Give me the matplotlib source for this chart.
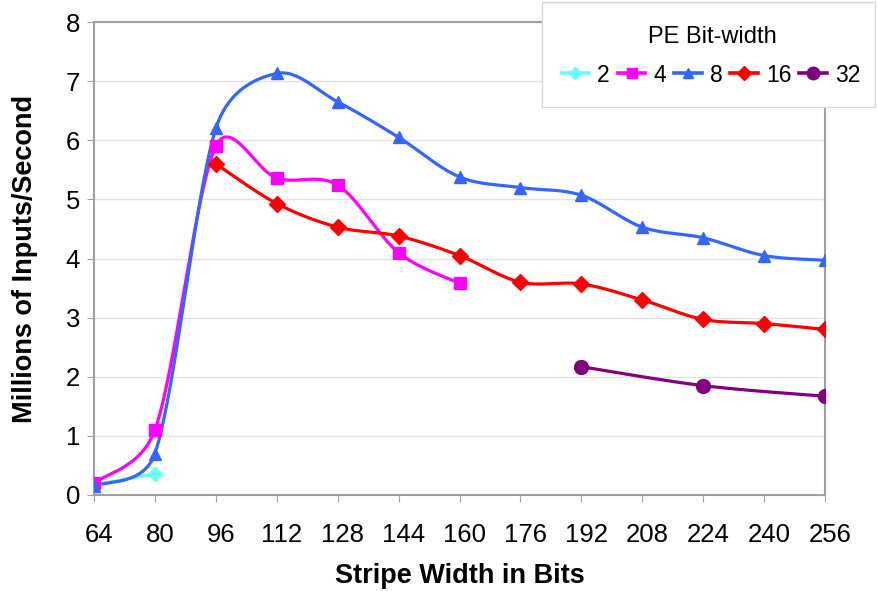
import numpy as np
import matplotlib
matplotlib.use('Agg')
from matplotlib import pyplot as plt
from matplotlib.lines import Line2D
from matplotlib.patches import Rectangle
from matplotlib.transforms import ScaledTranslation

plt.rcParams['font.family']=['Liberation Sans','DejaVu Sans']

stripe_widths=[64,80,96,112,128,144,160,176,192,208,224,240,256]
bw2=[0.17,0.36]
bw4=[0.2,1.1,5.9,5.36,5.24,4.1,3.58]
bw8=[0.15,0.7,6.2,7.13,6.65,6.05,5.38,5.2,5.07,4.53,4.35,4.05,3.97]
bw16=[5.6,4.93,4.53,4.38,4.05,3.6,3.57,3.3,2.97,2.9,2.8]
bw32=[2.17,1.85,1.67]

series=[
    ('2',0,bw2,'#66FFFF','D',7),
    ('4',0,bw4,'#FF00FF','s',8),
    ('8',0,bw8,'#3366FF','^',8),
    ('16',2,bw16,'#FF0000','D',8),
    ('32',8,bw32,'#800080','o',10),
]
# the 32-bit points sit on every other category
steps={'32':2}

# pixels per category / per unit, used so the smoothing works in screen space
PX_X=(825-94)/12
PX_Y=(495-22)/8

def smooth(xs,ys,n=30,k=0.5):
    # excel style smoothed line: cubic bezier, control points at 1/6 of the
    # neighbour span, but never longer than k times the segment itself
    pts=np.column_stack([np.array(xs)*PX_X,np.array(ys)*PX_Y]).astype(float)
    if len(pts)<3:
        return pts[:,0]/PX_X,pts[:,1]/PX_Y
    out=[pts[0]]
    t=np.linspace(0,1,n)[1:,None]
    for i in range(len(pts)-1):
        p0=pts[max(i-1,0)]
        p1=pts[i]
        p2=pts[i+1]
        p3=pts[min(i+2,len(pts)-1)]
        seg_len=np.hypot(*(p2-p1))
        d1=(p2-p0)/6
        d2=(p3-p1)/6
        for d in (d1,d2):
            l=np.hypot(*d)
            if l>k*seg_len:
                d*=k*seg_len/l
        c1=p1+d1
        c2=p2-d2
        seg=(1-t)**3*p1+3*(1-t)**2*t*c1+3*(1-t)*t**2*c2+t**3*p2
        out.extend(seg)
    out=np.array(out)
    return out[:,0]/PX_X,out[:,1]/PX_Y

fig=plt.figure(figsize=(8.77,5.91),dpi=100)
ax=fig.add_axes([94/877,(591-495)/591,(825-94)/877,(495-22)/591])

for label,start,vals,color,marker,ms in series:
    step=steps.get(label,1)
    xs=[start+i*step for i in range(len(vals))]
    sx,sy=smooth(xs,vals)
    ax.plot(sx,sy,color=color,lw=2.3,zorder=3,solid_capstyle='round')
    ax.plot(xs,vals,ls='none',marker=marker,color=color,ms=ms,zorder=4)

ax.set_xlim(0,len(stripe_widths)-1)
ax.set_ylim(0,8)
ax.set_xticks(range(len(stripe_widths)))
ax.set_xticklabels([str(w) for w in stripe_widths])
ax.set_yticks(range(9))
ax.tick_params(axis='x',labelsize=18.5,length=5,color='#a0a0a0',pad=15)
ax.tick_params(axis='y',labelsize=18.5,length=5,color='#a0a0a0',pad=5)
# category labels sit a few pixels right of their tick in the original
shift=ScaledTranslation(5/100,0,fig.dpi_scale_trans)
for lab in ax.get_xticklabels():
    lab.set_transform(lab.get_transform()+shift)
ax.grid(axis='y',color='#e3e3e3',lw=1)
ax.set_axisbelow(True)
for s in ax.spines.values():
    s.set_color('#a0a0a0')
    s.set_linewidth(1.5)

ax.set_xlabel('Stripe Width in Bits',fontsize=19.5,fontweight='bold',labelpad=12)
ax.set_ylabel('Millions of Inputs/Second',fontsize=19.5,fontweight='bold',labelpad=20)

# legend box in the upper right corner, title drawn separately
fig.patches.append(Rectangle((542/877,1-107/591),333/877,105/591,transform=fig.transFigure,
                             facecolor='white',edgecolor='#d8d8d8',lw=1,zorder=5))
fig.text(712/877,1-37/591,'PE Bit-width',fontsize=17,ha='center',va='center',zorder=6)
handles=[Line2D([0],[0],color=c,lw=2.6,marker=m,ms=ms*0.9) for _,_,_,c,m,ms in series]
leg=fig.legend(handles,[s[0] for s in series],loc='center',bbox_to_anchor=(711/877,1-75/591),
               ncol=5,frameon=False,fontsize=16.5,handlelength=1.2,handletextpad=0.35,
               columnspacing=0.35,borderpad=0)
leg.set_zorder(6)

# title of the slide, cut off by the top edge
fig.text(214/877,1+10/591,'Throughput',fontsize=28,fontweight='bold',color='#0000FF',va='baseline')

fig.savefig('out.png',dpi=100)
